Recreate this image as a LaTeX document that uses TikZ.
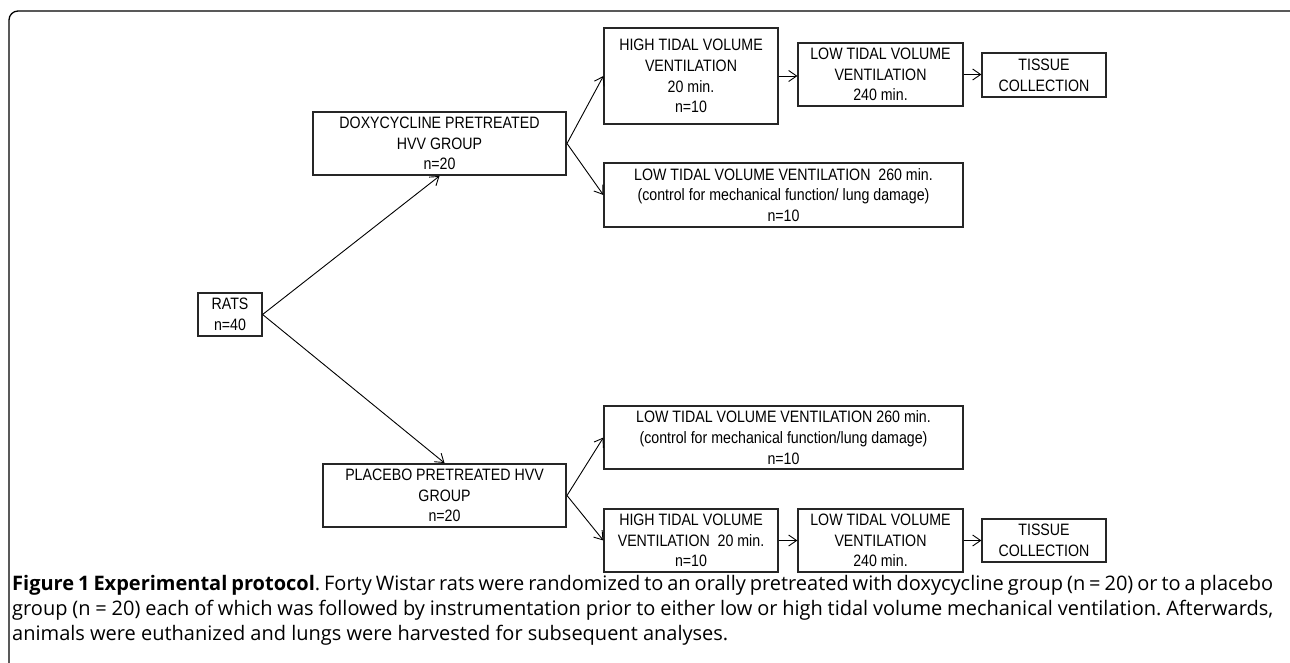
\documentclass[tikz,border=0pt]{standalone}
\usepackage{fontspec}
\setmainfont{Liberation Sans}
\newfontfamily\boxfont[FakeStretch=0.86]{Liberation Sans}
\newfontfamily\capfont{Open Sans}
\usetikzlibrary{arrows.meta}
\begin{document}
\begin{tikzpicture}[x=1pt,y=-1pt,
  stage/.style={draw=black!85, line width=1.2pt, inner sep=0pt, align=center,
    font=\boxfont\fontsize{16.5}{20.7}\selectfont},
  group/.style={stage, line width=2pt},
  conn/.style={line width=0.9pt, -{Straight Barb[length=8pt,width=11pt,line width=0.9pt]}}]
\useasboundingbox (0,0) rectangle (1290,663);
% frame
\draw[line width=1.3pt, rounded corners=9pt] (9,690) -- (9,11) -- (1299,11) -- (1299,690);
% nodes
\node[stage, minimum width=64pt, minimum height=43pt] (rats) at (230,314.5) {RATS\\n=40};
\node[group, minimum width=253pt, minimum height=63pt] (doxy) at (439.5,143.5) {DOXYCYCLINE PRETREATED\\HVV GROUP\\n=20};
\node[group, minimum width=243pt, minimum height=63pt] (plac) at (444.5,495.5) {PLACEBO PRETREATED HVV\\GROUP\\n=20};
\node[stage, minimum width=174pt, minimum height=96pt] (hia) at (691,76) {HIGH TIDAL VOLUME\\VENTILATION\\20 min.\\n=10};
\node[stage, minimum width=165pt, minimum height=63pt] (loa) at (880.5,74.5) {LOW TIDAL VOLUME\\VENTILATION\\240 min.};
\node[stage, minimum width=124pt, minimum height=44pt] (tia) at (1044,75) {TISSUE\\COLLECTION};
\node[stage, minimum width=359pt, minimum height=64pt] (lca) at (783.5,195) {LOW TIDAL VOLUME VENTILATION\ \ 260 min.\\(control for mechanical function/ lung damage)\\n=10};
\node[stage, minimum width=359pt, minimum height=63pt] (lcb) at (783.5,437.5) {LOW TIDAL VOLUME VENTILATION 260 min.\\(control for mechanical function/lung damage)\\n=10};
\node[stage, minimum width=174pt, minimum height=63pt] (hib) at (691,540.5) {HIGH TIDAL VOLUME\\VENTILATION\ \ 20 min.\\n=10};
\node[stage, minimum width=165pt, minimum height=63pt] (lob) at (880.5,540.5) {LOW TIDAL VOLUME\\VENTILATION\\240 min.};
\node[stage, minimum width=124pt, minimum height=43pt] (tib) at (1044,540.5) {TISSUE\\COLLECTION};
% connectors
\draw[conn] (rats.east) -- (doxy.south);
\draw[conn] (rats.east) -- (plac.north);
\draw[conn] (doxy.east) -- (hia.west);
\draw[conn] (doxy.east) -- (lca.west);
\draw[conn] (plac.east) -- (lcb.west);
\draw[conn] (plac.east) -- (hib.west);
\draw[conn] (hia.east) -- (hia.east -| loa.west);
\draw[conn] (loa.east) -- (loa.east -| tia.west);
\draw[conn] (hib.east) -- (lob.west);
\draw[conn] (lob.east) -- (tib.west);
% caption
\node[anchor=north west, inner sep=0pt, text width=1261pt, align=justify] (cap) at (12,575)
  {\capfont\fontsize{20}{25}\selectfont\frenchspacing\hyphenpenalty=10000\exhyphenpenalty=10000
   \textbf{Figure 1 Experimental protocol}. Forty Wistar rats were randomized to an orally pretreated with doxycycline group (n = 20) or to a placebo\linebreak group (n = 20) each of which was followed by instrumentation prior to either low or high tidal volume mechanical ventilation. Afterwards,\newline animals were euthanized and lungs were harvested for subsequent analyses.\par};
\end{tikzpicture}
\end{document}
